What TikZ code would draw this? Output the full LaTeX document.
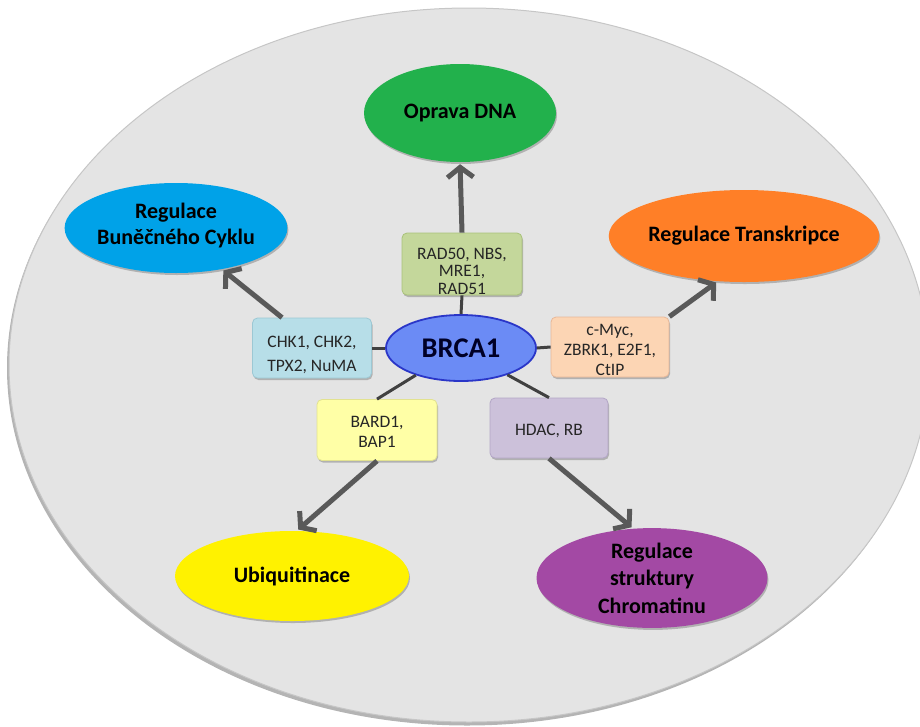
\documentclass[tikz,border=0pt]{standalone}
\usepackage{fontspec}
\setmainfont{Carlito}
\usetikzlibrary{arrows.meta,shapes.geometric,shadows,calc}
\definecolor{bgfill}{HTML}{E4E4E4}
\definecolor{bgline}{HTML}{C6C6C6}
\definecolor{bgshadow}{HTML}{B4B4B4}
\definecolor{cgreen}{HTML}{22B14C}
\definecolor{cblue}{HTML}{00A2E8}
\definecolor{corange}{HTML}{FF7F27}
\definecolor{cyellow}{HTML}{FFF200}
\definecolor{cpurple}{HTML}{A349A4}
\definecolor{brcafill}{HTML}{6B8BF5}
\definecolor{brcaline}{HTML}{2A36C8}
\definecolor{radfill}{HTML}{C4D79B}
\definecolor{radline}{HTML}{A9C27A}
\definecolor{chkfill}{HTML}{B7DEE8}
\definecolor{chkline}{HTML}{9CC8D4}
\definecolor{mycfill}{HTML}{FCD5B4}
\definecolor{mycline}{HTML}{E8B898}
\definecolor{bardfill}{HTML}{FFFFA6}
\definecolor{bardline}{HTML}{E2E290}
\definecolor{hdacfill}{HTML}{CCC1DA}
\definecolor{hdacline}{HTML}{B3A6C6}
\definecolor{arrowgray}{HTML}{595959}
\definecolor{linkgray}{HTML}{404040}
\definecolor{boxtextc}{HTML}{262626}
\begin{document}
\begin{tikzpicture}[x=1pt,y=-1pt,
  goal/.style={ellipse, inner sep=0pt, align=center, text=black,
    font=\fontsize{22}{26}\selectfont\bfseries,
    drop shadow={shadow xshift=1pt, shadow yshift=-2pt, opacity=0.22, fill=black}},
  protbox/.style={rectangle, rounded corners=5pt, minimum width=119pt, minimum height=60pt,
    inner sep=0pt, line width=0.8pt,
    drop shadow={shadow xshift=1pt, shadow yshift=-2pt, opacity=0.22, fill=black}},
  boxtext/.style={align=center, text=boxtextc, inner sep=0pt},
  arr/.style={draw=arrowgray, line width=5pt, shorten >=2pt,
    -{Straight Barb[length=10pt,width=26pt]}},
  link/.style={draw=linkgray, line width=3pt}]
\useasboundingbox (0,0) rectangle (920,726);
\clip (0,0) rectangle (920,726);
% background disc
\fill[bgshadow] (467,368) ellipse [x radius=460pt, y radius=357.5pt];
\filldraw[fill=bgfill, draw=bgline, line width=1pt] (469,365) ellipse [x radius=460pt, y radius=357pt];

% goal ellipses
\node[goal, fill=cgreen, minimum width=192pt, minimum height=98pt] (dna) at (460,113) {Oprava DNA};
\node[goal, fill=cblue, minimum width=216pt, minimum height=90pt] (cyc) at (176,228)
  {Regulace\\Buněčného Cyklu\\[-18pt]\mbox{}};
\node[goal, fill=corange, minimum width=228pt, minimum height=92pt] (trans) at (744,236) {Regulace Transkripce};
\node[goal, fill=cyellow, minimum width=234pt, minimum height=90pt] (ubq) at (292,576) {Ubiquitinace};
\node[goal, fill=cpurple, minimum width=231pt, minimum height=91pt, font=\fontsize{22}{27.5}\selectfont\bfseries] (chrom) at (652,578)
  {Regulace\\struktury\\Chromatinu};

% centre
\node[ellipse, fill=brcafill, draw=brcaline, line width=1.8pt, minimum width=150pt, minimum height=66pt,
  inner sep=0pt, font=\fontsize{28.5}{30}\selectfont\bfseries, text=black!85!blue] (brca) at (461,348) {BRCA1};

% protein boxes
\node[protbox, fill=radfill, draw=radline, minimum width=120pt, minimum height=62pt,
  label={[boxtext, yshift=-7pt, font=\fontsize{17.5}{17.5}\selectfont]center:{RAD50, NBS,\\MRE1,\\RAD51}}] (rad) at (462,264) {};
\node[protbox, fill=chkfill, draw=chkline,
  label={[boxtext, yshift=-7pt, font=\fontsize{17.5}{24}\selectfont]center:{CHK1, CHK2,\\TPX2, NuMA}}] (chk) at (312,348) {};
\node[protbox, fill=mycfill, draw=mycline, minimum width=118pt,
  label={[boxtext, yshift=-3pt, font=\fontsize{17.5}{20}\selectfont]center:{c-Myc,\\ZBRK1, E2F1,\\CtIP}}] (myc) at (610,347) {};
\node[protbox, fill=bardfill, draw=bardline, minimum width=120pt, minimum height=61pt,
  label={[boxtext, yshift=-2pt, font=\fontsize{17.5}{20}\selectfont]center:{BARD1,\\BAP1}}] (bard) at (377,430) {};
\node[protbox, fill=hdacfill, draw=hdacline, minimum width=118pt,
  label={[boxtext, yshift=-3pt, font=\fontsize{17.5}{20}\selectfont]center:{HDAC, RB}}] (hdac) at (549,428) {};

% links BRCA1 -> boxes
\draw[link] (brca.north) -- (rad.south);
\draw[link] (brca.west) -- (chk.east);
\draw[link] (brca.east) -- (myc.west);
\draw[link] (brca.211) -- (bard.north);
\draw[link] (brca.330) -- (hdac.north);

% arrows boxes -> functions
\draw[arr] (rad.north) -- (dna.south);
\draw[arr] ($(chk.north)!0.5!(chk.north west)$) -- (cyc.-42);
\draw[arr] (myc.north east) -- (trans.240);
\draw[arr] (bard.south) -- (ubq.84);
\draw[arr] (hdac.south) -- (chrom.111);
\end{tikzpicture}
\end{document}
